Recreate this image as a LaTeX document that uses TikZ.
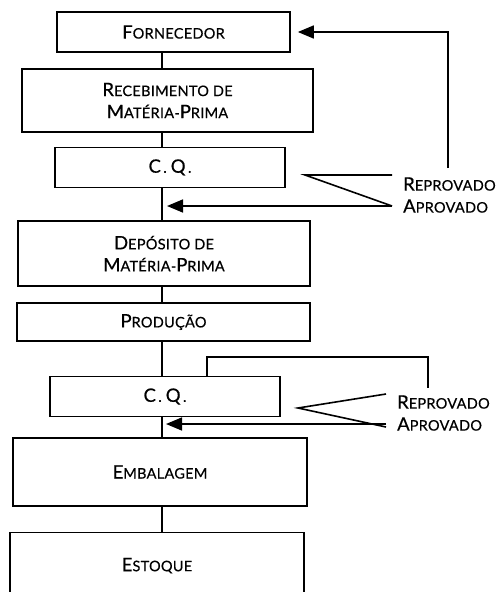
\documentclass[tikz,border=0pt]{standalone}
\usepackage{fontspec}
\setmainfont{Lato}[FakeBold=0.5, LetterSpace=2]
\usetikzlibrary{arrows.meta, positioning}
\newcommand{\capword}[2]{{\fontsize{18.5}{22}\selectfont #1}\MakeUppercase{#2}}

\begin{document}
\begin{tikzpicture}[x=1pt, y=-1pt,
    flowbox/.style={rectangle, draw=black, line width=1.7pt, inner sep=0pt, align=center, font=\fontsize{14.5}{22}\selectfont},
    verdict/.style={anchor=west, inner xsep=11pt, inner ysep=0pt, font=\fontsize{14.5}{22}\selectfont},
    link/.style={draw=black, line width=1.6pt},
    arr/.style={link, -{Triangle[length=16pt, width=13pt]}}
]
    \useasboundingbox (0,0) rectangle (502,592);

    % Main column
    \node (forn) [flowbox, minimum width=233pt, minimum height=40pt] at (173.5,32) {\capword{F}{ornecedor}};
    \node (receb) [flowbox, minimum width=291pt, minimum height=63.5pt, below=15pt of forn, xshift=-6pt] {\capword{R}{ecebimento de}\\\capword{M}{atéria}-\capword{P}{rima}};
    \node (cq1) [flowbox, minimum width=230pt, minimum height=40pt, below=13.5pt of receb, xshift=2.5pt] {\capword{C}{}\,.\ \capword{Q}{}\,.};
    \node (depos) [flowbox, minimum width=292pt, minimum height=65pt, below=32pt of cq1, xshift=-6pt] {\capword{D}{epósito de}\\\capword{M}{atéria}-\capword{P}{rima}};
    \node (prod) [flowbox, minimum width=293pt, minimum height=38.5pt, below=15pt of depos, xshift=-0.5pt] {\capword{P}{rodução}};
    \node (cq2) [flowbox, minimum width=230pt, minimum height=40pt, below=33.5pt of prod, xshift=1.5pt] {\capword{C}{}\,.\ \capword{Q}{}\,.};
    \node (emb) [flowbox, minimum width=294pt, minimum height=67.5pt, below=20pt of cq2, xshift=-5pt] {\capword{E}{mbalagem}};
    \node (est) [flowbox, minimum width=294pt, minimum height=66.5pt, below=25pt of emb, xshift=-3pt] {\capword{E}{stoque}};

    % Right side: inspection results
    \node (rep1) [verdict] at (392,184) {\capword{R}{eprovado}};
    \node (apr1) [verdict] at (392,206) {\capword{A}{provado}};
    \node (rep2) [verdict] at (386,402) {\capword{R}{eprovado}};
    \node (apr2) [verdict] at (386,424) {\capword{A}{provado}};

    \coordinate (spine) at (162,0);
    \coordinate (tip1) at (305,175);
    \coordinate (tip2) at (298,408);
    \coordinate (fb1) at (448,0);
    \coordinate (loop2) at (428,357);

    % Main line
    \draw [link] (forn.south -| spine) -- (receb.north -| spine);
    \draw [link] (receb.south -| spine) -- (cq1.north -| spine);
    \draw [link] (cq1.south -| spine) -- (depos.north -| spine);
    \draw [link] (depos.south -| spine) -- (prod.north -| spine);
    \draw [link] (prod.south -| spine) -- (cq2.north -| spine);
    \draw [link] (cq2.south -| spine) -- (emb.north -| spine);
    \draw [link] (emb.south -| spine) -- (est.north -| spine);

    % First C. Q.
    \draw [link] (rep1.west |- tip1) -- (tip1) -- (apr1.west);
    \draw [arr, shorten >=5pt] (apr1.west) -- (apr1.west -| spine);
    \draw [arr, shorten <=9pt, shorten >=7pt] (fb1 |- rep1.north) |- (forn.east);

    % Second C. Q.
    \draw [link] ([yshift=8pt]rep2.west) -- (tip2) -- ([yshift=-3pt]apr2.west);
    \draw [arr, shorten >=4pt] (apr2.west) -- (apr2.west -| spine);
    \draw [link, shorten >=7pt] ([xshift=42pt]cq2.north) |- (loop2) -- (loop2 |- rep2.north);
\end{tikzpicture}
\end{document}
